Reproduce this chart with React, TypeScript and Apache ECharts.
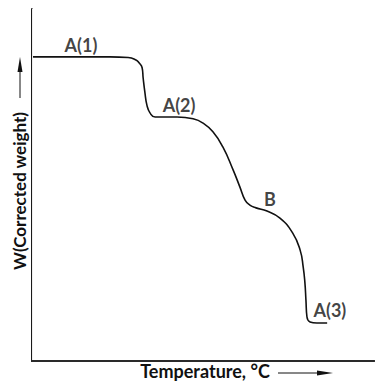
import React, { useEffect, useRef } from "react";
import * as echarts from "echarts";

// Thermogravimetric curve (schematic units: temperature 0-100, corrected weight 0-100)
const temperature = [0.3, 22.8, 28.1, 30.4, 31.3, 32.2, 32.5, 33.0, 33.6, 34.5, 36.0, 42.4, 47.1, 50.0, 52.9, 55.8, 58.8, 60.8, 62.3, 63.7, 65.5, 68.7, 72.5, 76.2, 78.4, 79.3, 79.8, 80.1, 80.4, 81.3, 83.3, 86.3];
const weight = [86.4, 86.4, 86.2, 85.5, 84.7, 83.3, 80.4, 76.4, 72.7, 70.5, 69.3, 69.3, 68.8, 67.6, 65.1, 60.8, 54.3, 49.4, 45.7, 44.3, 43.5, 42.6, 40.6, 36.4, 31.5, 26.7, 22.2, 17.3, 12.5, 11.1, 10.8, 10.8];

const labelNames = ["A(1)", "A(2)", "B", "A(3)"];
const labelT = [14.3, 43.0, 69.6, 87.1];
const labelW = [89.8, 72.7, 46.0, 14.5];

const xTitle = "Temperature, °C";
const yTitle = "W(Corrected weight)";

const FONT = "Lato, 'Open Sans', sans-serif";

export default function App() {
  const ref = useRef<HTMLDivElement>(null);
  useEffect(() => {
    if (!ref.current) return;
    const chart = echarts.init(ref.current, null, { renderer: "svg" });
    const lineData = temperature.map((t, i) => [t, weight[i]]);
    const labelData = labelNames.map((n, i) => ({ name: n, value: [labelT[i], labelW[i]] }));
    chart.setOption({
      animation: false,
      backgroundColor: "#ffffff",
      grid: { left: 32, right: 4, top: 9, bottom: 22 },
      xAxis: [
        {
          type: "value", min: 0, max: 100, position: "bottom",
          axisLine: { show: true, lineStyle: { color: "#1a1a1a", width: 2 } },
          axisTick: { show: false }, axisLabel: { show: false }, splitLine: { show: false },
        },
        {
          type: "value", min: 0, max: 100, position: "top",
          axisLine: { show: true, lineStyle: { color: "#2a2a2a", width: 2 } },
          axisTick: { show: false }, axisLabel: { show: false }, splitLine: { show: false },
        },
      ],
      yAxis: [
        {
          type: "value", min: 0, max: 100, position: "left",
          axisLine: { show: true, lineStyle: { color: "#1a1a1a", width: 2 } },
          axisTick: { show: false }, axisLabel: { show: false }, splitLine: { show: false },
        },
        {
          type: "value", min: 0, max: 100, position: "right",
          axisLine: { show: true, lineStyle: { color: "#eeeeee", width: 1 } },
          axisTick: { show: false }, axisLabel: { show: false }, splitLine: { show: false },
        },
      ],
      series: [
        {
          type: "line",
          data: lineData,
          smooth: 0.5,
          symbol: "none",
          lineStyle: { color: "#111111", width: 1.6 },
        },
        {
          type: "scatter",
          data: labelData,
          symbolSize: 0,
          label: {
            show: true,
            position: "inside",
            formatter: (p: any) => p.name,
            color: "#111111",
            fontFamily: FONT,
            fontSize: 18,
            fontWeight: "bold",
          },
        },
      ],
      graphic: [
        {
          type: "text",
          x: 205, y: 371,
          style: {
            text: xTitle, fill: "#111111", fontFamily: FONT, fontSize: 18, fontWeight: "bold",
            textAlign: "center", textVerticalAlign: "middle",
          },
        },
        { type: "line", shape: { x1: 278, y1: 373, x2: 320, y2: 373 }, style: { stroke: "#111111", lineWidth: 1 } },
        { type: "polygon", shape: { points: [[317, 370.5], [333, 373], [317, 375.5]] }, style: { fill: "#111111" } },
        {
          type: "text",
          x: 19, y: 191, rotation: Math.PI / 2,
          style: {
            text: yTitle, fill: "#111111", fontFamily: FONT, fontSize: 17, fontWeight: "bold",
            textAlign: "center", textVerticalAlign: "middle",
          },
        },
        { type: "line", shape: { x1: 20, y1: 98, x2: 20, y2: 66 }, style: { stroke: "#111111", lineWidth: 1 } },
        { type: "polygon", shape: { points: [[17.5, 72], [20, 57], [22.5, 72]] }, style: { fill: "#111111" } },
      ],
    });
    return () => chart.dispose();
  }, []);
  return <div ref={ref} style={{ width: 378, height: 383, position: "absolute", left: 0, top: 0 }} />;
}
